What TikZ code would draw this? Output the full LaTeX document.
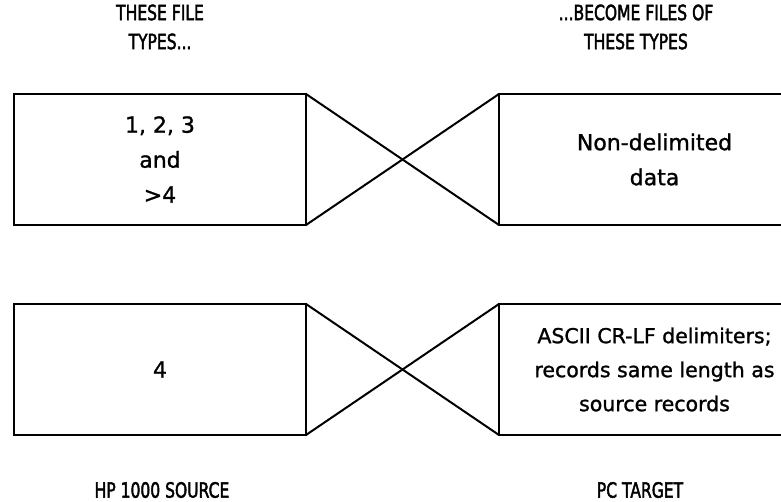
\documentclass[tikz,border=0pt]{standalone}
\usepackage{fontspec}
\setmainfont{DejaVu Sans}[FakeBold=1.2]
\newfontfamily\headfont[FakeStretch=0.74, FakeBold=2]{DejaVu Sans}
\usepackage{tikz}
\usetikzlibrary{positioning}
\tikzstyle{filebox} = [rectangle, minimum width=292pt, minimum height=131pt, inner sep=0pt, outer sep=0pt, draw=black, line width=2pt, text centered, align=center, font=\fontsize{22}{35}\selectfont]
\tikzstyle{pcbox} = [filebox, minimum width=311pt]
\tikzstyle{heading} = [align=center, font=\headfont\fontsize{21}{29}\selectfont]
\tikzstyle{cross} = [line width=2pt]

\begin{document}
\begin{tikzpicture}[x=1pt, y=1pt]
        \clip (0,0) rectangle (781,502);
        \node (src1) [filebox] at (160,342.5) {1, 2, 3\\and\\>4};
        \node (tgt1) [pcbox, right=193pt of src1] {Non-delimited\\data};
        \node (src2) [filebox, below=79pt of src1] {4};
        \node (tgt2) [pcbox, right=193pt of src2, font=\fontsize{20.5}{34}\selectfont] {ASCII CR-LF delimiters;\\records same length as\\source records};

        \node (srcHead) [heading] at (160,475) {THESE FILE\\TYPES...};
        \node (tgtHead) [heading] at (636,475) {...BECOME FILES OF\\THESE TYPES};
        \node (srcFoot) [heading] at (162,12) {HP 1000 SOURCE};
        \node (tgtFoot) [heading] at (640,12) {PC TARGET};

        \draw [cross] (src1.north east) -- (tgt1.south west);
        \draw [cross] (src1.south east) -- (tgt1.north west);
        \draw [cross] (src2.north east) -- (tgt2.south west);
        \draw [cross] (src2.south east) -- (tgt2.north west);
    \end{tikzpicture}
\end{document}
